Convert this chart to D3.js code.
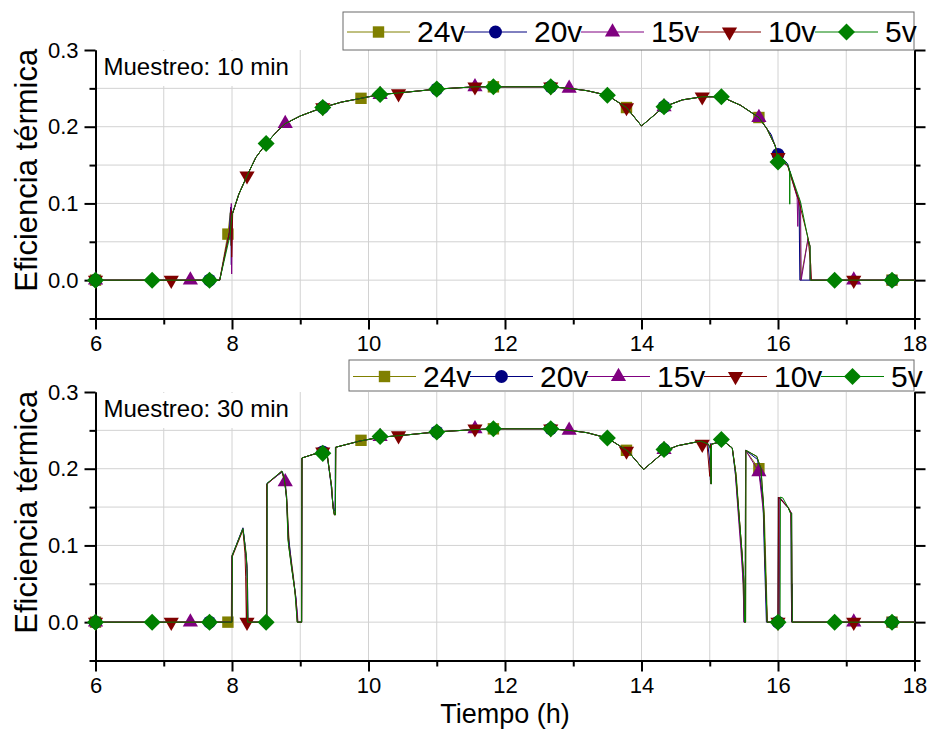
<!DOCTYPE html>
<html>
<head>
<meta charset="utf-8">
<script src="https://cdn.jsdelivr.net/npm/d3@7"></script>
<style>
  body { margin: 0; background: #fff; }
  svg { display: block; }
  text { font-family: "Liberation Sans", Arial, sans-serif; fill: #000; }
</style>
</head>
<body>
<svg id="chart" width="930" height="729"></svg>
<script>
// ---------- series definitions ----------
const seriesNames  = ["24v", "20v", "15v", "10v", "5v"];
const seriesColors = ["#808000", "#000080", "#800080", "#800000", "#008000"];
const seriesShapes = ["square", "circle", "triangle", "triangleDown", "diamond"];

// ---------- axis ticks ----------
const hourTicks  = [6, 8, 10, 12, 14, 16, 18];
const hourMinor  = [7, 9, 11, 13, 15, 17];
const effTicks   = [0.0, 0.1, 0.2, 0.3];
const effMinor   = [-0.05, 0.05, 0.15, 0.25];
const effGrid    = [0.0, 0.05, 0.1, 0.15, 0.2, 0.25];

// ---------- 10 min sampling: efficiency vs hour ----------
const curveTop = [
  [6, 0], [7.82, 0], [7.97, 0.058], [8.0, 0.085], [8.1, 0.112], [8.22, 0.136],
  [8.35, 0.16], [8.5, 0.178], [8.65, 0.193], [8.78, 0.204], [9.0, 0.214],
  [9.33, 0.225], [9.6, 0.232], [9.89, 0.237], [10.17, 0.242], [10.44, 0.244],
  [11.0, 0.249], [11.56, 0.252], [11.83, 0.252], [12.67, 0.252], [12.94, 0.25],
  [13.2, 0.247], [13.5, 0.241], [13.78, 0.225], [14.0, 0.201], [14.33, 0.226],
  [14.6, 0.235], [14.89, 0.239], [15.17, 0.239], [15.45, 0.228], [15.72, 0.212],
  [15.84, 0.197], [15.96, 0.175], [16.0, 0.154], [16.14, 0.151], [16.17, 0.142],
  [16.172, 0.099], [16.175, 0.142], [16.33, 0.102], [16.44, 0.054], [16.47, 0.044],
  [16.472, 0], [18, 0]
];
const edgesTop24 = [
  [[7.82, 0], [7.94, 0.06], [7.975, 0.088], [7.985, 0.045], [8.0, 0.085]],
  [[16.0, 0.158], [16.14, 0.15], [16.17, 0.14], [16.3, 0.104], [16.32, 0.1], [16.33, 0]]
];
const edgesTop20 = [
  [[7.82, 0], [7.96, 0.062], [7.98, 0.095], [7.99, 0.02], [8.0, 0.085]],
  [[15.9, 0.19], [16.0, 0.164], [16.14, 0.152], [16.3, 0.105], [16.31, 0.09], [16.32, 0],
   [16.47, 0], [16.475, 0.02], [16.48, 0]]
];
const edgesTop15 = [
  [[7.82, 0], [7.97, 0.065], [7.99, 0.1], [7.995, 0.008], [8.005, 0.086]],
  [[16.0, 0.158], [16.15, 0.148], [16.28, 0.108], [16.29, 0.07], [16.3, 0.108],
   [16.33, 0.1], [16.34, 0]]
];
const edgesTop10 = [
  [[7.82, 0], [7.98, 0.07], [7.99, 0.092], [7.995, 0.03], [8.01, 0.087]],
  [[16.0, 0.16], [16.14, 0.15], [16.3, 0.105], [16.44, 0.055], [16.48, 0.02], [16.49, 0]]
];
const marksTop24 = [[6, 0], [7.94, 0.06], [9.89, 0.237], [11.83, 0.252], [13.78, 0.225],
  [15.72, 0.212], [17.67, 0]];
const marksTop20 = [[6, 0], [7.67, 0], [9.33, 0.225], [11.0, 0.249], [12.67, 0.252],
  [14.33, 0.226], [16.0, 0.164], [17.67, 0]];
const marksTop15 = [[6, 0], [7.39, 0], [8.78, 0.204], [10.17, 0.242], [11.56, 0.252],
  [12.94, 0.25], [14.33, 0.226], [15.72, 0.212], [17.11, 0]];
const marksTop10 = [[6, 0], [7.11, 0], [8.22, 0.136], [9.33, 0.225], [10.44, 0.243],
  [11.56, 0.252], [12.67, 0.252], [13.78, 0.225], [14.89, 0.239], [16.0, 0.16], [17.11, 0]];
const marksTop5 = [[6, 0], [6.83, 0], [7.67, 0], [8.5, 0.178], [9.33, 0.225], [10.17, 0.242],
  [11.0, 0.249], [11.83, 0.252], [12.67, 0.252], [13.5, 0.241], [14.33, 0.226],
  [15.17, 0.239], [16.0, 0.154], [16.83, 0], [17.67, 0]];

// ---------- 30 min sampling: efficiency vs hour ----------
const curveBottom = [
  [6, 0], [8.0, 0], [8.005, 0.087], [8.16, 0.122], [8.19, 0.1], [8.21, 0.087],
  [8.225, 0.057], [8.23, 0], [8.51, 0], [8.515, 0.181], [8.73, 0.197], [8.76, 0.19],
  [8.8, 0.164], [8.82, 0.107], [8.87, 0.072], [8.92, 0.042], [8.95, 0.007], [8.955, 0],
  [9.02, 0], [9.025, 0.214], [9.2, 0.219], [9.33, 0.221], [9.4, 0.215], [9.46, 0.176],
  [9.48, 0.15], [9.5, 0.14], [9.515, 0.14], [9.52, 0.228], [9.87, 0.236], [10.17, 0.241],
  [10.44, 0.243], [11.0, 0.248], [11.56, 0.251], [11.83, 0.252], [12.67, 0.252],
  [12.94, 0.25], [13.2, 0.247], [13.5, 0.24], [13.8, 0.223], [14.03, 0.199],
  [14.36, 0.224], [14.53, 0.23], [14.87, 0.236], [14.98, 0.232], [15.01, 0.226],
  [15.02, 0.18], [15.025, 0.232], [15.2, 0.236], [15.33, 0.227], [15.38, 0.195],
  [15.42, 0.15], [15.47, 0.094], [15.5, 0.055], [15.51, 0], [15.525, 0], [15.53, 0.224],
  [15.69, 0.216], [15.75, 0.2], [15.79, 0.15], [15.81, 0.085], [15.84, 0], [16.03, 0],
  [16.035, 0.163], [16.07, 0.162], [16.15, 0.149], [16.18, 0.142], [16.2, 0.142],
  [16.205, 0.05], [16.21, 0], [18, 0]
];
const edgesBottom24 = [
  [[7.99, 0], [7.995, 0.086], [8.16, 0.121], [8.2, 0.095], [8.22, 0.07], [8.232, 0]],
  [[8.505, 0], [8.51, 0.18], [8.73, 0.196], [8.78, 0.18], [8.81, 0.15], [8.84, 0.1],
   [8.9, 0.06], [8.96, 0.005], [8.965, 0]],
  [[15.33, 0.227], [15.39, 0.19], [15.43, 0.14], [15.48, 0.08], [15.505, 0], [15.52, 0],
   [15.525, 0.224], [15.72, 0.2], [15.8, 0.14], [15.82, 0.08], [15.845, 0]],
  [[16.0, 0], [16.005, 0.163], [16.15, 0.15], [16.19, 0.142], [16.195, 0.06], [16.2, 0]]
];
const edgesBottom20 = [
  [[7.995, 0], [8.0, 0.086], [8.16, 0.123], [8.18, 0.11], [8.2, 0.09], [8.22, 0.07],
   [8.23, 0.04], [8.235, 0]],
  [[8.51, 0], [8.512, 0.181], [8.74, 0.196], [8.77, 0.185], [8.8, 0.16], [8.83, 0.11],
   [8.88, 0.07], [8.94, 0.03], [8.96, 0]],
  [[9.4, 0.214], [9.45, 0.18], [9.47, 0.16], [9.5, 0.145], [9.51, 0.145], [9.515, 0.228]],
  [[14.97, 0.233], [15.0, 0.21], [15.01, 0.185], [15.015, 0.233]],
  [[15.33, 0.227], [15.38, 0.19], [15.42, 0.145], [15.47, 0.09], [15.5, 0.04], [15.505, 0],
   [15.52, 0], [15.525, 0.224], [15.7, 0.212], [15.78, 0.16], [15.8, 0.09], [15.83, 0]],
  [[16.0, 0], [16.005, 0.163], [16.15, 0.149], [16.19, 0.142], [16.195, 0.05], [16.2, 0]]
];
const edgesBottom15 = [
  [[7.998, 0], [8.002, 0.086], [8.16, 0.122], [8.19, 0.1], [8.22, 0.075], [8.228, 0]],
  [[8.51, 0], [8.513, 0.18], [8.73, 0.196], [8.78, 0.183], [8.8, 0.165], [8.82, 0.11],
   [8.87, 0.075], [8.93, 0.035], [8.96, 0.01], [8.965, 0]],
  [[15.33, 0.227], [15.37, 0.2], [15.41, 0.15], [15.46, 0.09], [15.49, 0.05], [15.5, 0],
   [15.52, 0], [15.525, 0.224], [15.72, 0.196], [15.79, 0.14], [15.81, 0.08], [15.84, 0]],
  [[16.02, 0], [16.025, 0.163], [16.15, 0.149], [16.2, 0.142], [16.205, 0.06], [16.21, 0]]
];
const edgesBottom10 = [
  [[8.0, 0], [8.003, 0.085], [8.16, 0.12], [8.19, 0.09], [8.2, 0.06], [8.21, 0]],
  [[8.508, 0], [8.51, 0.18], [8.73, 0.197], [8.77, 0.185], [8.8, 0.162], [8.83, 0.1],
   [8.88, 0.068], [8.93, 0.035], [8.955, 0]],
  [[14.96, 0.232], [14.99, 0.2], [15.0, 0.19], [15.015, 0.232]],
  [[16.0, 0], [16.01, 0.163], [16.15, 0.149], [16.19, 0.142], [16.2, 0.1], [16.205, 0]]
];
const marksBottom24 = [[6, 0], [7.94, 0], [9.89, 0.237], [11.83, 0.252], [13.78, 0.224],
  [15.72, 0.2], [17.67, 0]];
const marksBottom20 = [[6, 0], [7.67, 0], [9.33, 0.222], [11.0, 0.248], [12.67, 0.252],
  [14.33, 0.225], [16.0, 0], [17.67, 0]];
const marksBottom15 = [[6, 0], [7.39, 0], [8.78, 0.183], [10.17, 0.242], [11.56, 0.252],
  [12.94, 0.25], [14.33, 0.225], [15.72, 0.196], [17.11, 0]];
const marksBottom10 = [[6, 0], [7.11, 0], [8.22, 0], [9.33, 0.222], [10.44, 0.243],
  [11.56, 0.252], [12.67, 0.252], [13.78, 0.223], [14.89, 0.232], [16.0, 0], [17.11, 0]];
const marksBottom5 = [[6, 0], [6.83, 0], [7.67, 0], [8.5, 0], [9.33, 0.22], [10.17, 0.242],
  [11.0, 0.248], [11.83, 0.252], [12.67, 0.252], [13.5, 0.24], [14.33, 0.225],
  [15.17, 0.238], [16.0, 0], [16.83, 0], [17.67, 0]];

// ---------- helpers ----------
// replace the shared curve inside each edge segment's time span with that segment
function buildLine(curve, segments) {
  let pts = curve.slice();
  segments.forEach(seg => {
    const t0 = seg[0][0], t1 = seg[seg.length - 1][0];
    pts = pts.filter(p => p[0] < t0 || p[0] > t1).concat(seg);
  });
  return pts.sort((a, b) => a[0] - b[0]);
}

function symbolPath(shape) {
  switch (shape) {
    case "square":       return d3.symbol(d3.symbolSquare, 130)();
    case "circle":       return d3.symbol(d3.symbolCircle, 130)();
    case "triangle":     return d3.symbol(d3.symbolTriangle, 100)();
    case "triangleDown": return d3.symbol(d3.symbolTriangle, 100)();
    case "diamond":      return d3.symbol(d3.symbolSquare, 145)();
  }
}
function symbolRotate(shape) {
  if (shape === "triangleDown") return 180;
  if (shape === "diamond") return 45;
  return 0;
}

const svg = d3.select("#chart");
const x = d3.scaleLinear().domain([6, 18]).range([95.5, 914.5]);

function drawPanel(cfg) {
  const y = d3.scaleLinear().domain([-0.05, 0.3]).range(cfg.yRange);
  const g = svg.append("g");

  // grid
  g.append("g").selectAll("line").data(hourMinor.concat([8, 10, 12, 14, 16])).join("line")
    .attr("x1", d => x(d)).attr("x2", d => x(d))
    .attr("y1", y(0.3)).attr("y2", y(-0.05))
    .attr("stroke", "#d2d2d2").attr("stroke-width", 1);
  g.append("g").selectAll("line").data(effGrid).join("line")
    .attr("x1", x(6)).attr("x2", x(18))
    .attr("y1", d => y(d)).attr("y2", d => y(d))
    .attr("stroke", "#d2d2d2").attr("stroke-width", 1);

  // sampling label with white backdrop
  g.append("rect").attr("x", x(6) + 2).attr("y", y(0.3) + 1)
    .attr("width", 198).attr("height", 35).attr("fill", "#fff");
  g.append("text").attr("x", x(6) + 8).attr("y", y(0.3) + 25)
    .attr("font-size", 24).text(cfg.label);

  // axes
  const axisStyle = sel => {
    sel.selectAll("path.domain").attr("stroke", "#000").attr("stroke-width", 2);
    sel.selectAll(".tick line").attr("stroke", "#000").attr("stroke-width", 2);
    sel.selectAll(".tick text").attr("font-size", 22)
      .attr("font-family", "'Liberation Sans', Arial, sans-serif").attr("fill", "#000");
  };
  const yZero = y(-0.05);
  g.append("g").attr("transform", `translate(0,${yZero})`)
    .call(d3.axisBottom(x).tickValues(hourTicks).tickSize(11).tickSizeOuter(0).tickPadding(6)
      .tickFormat(d3.format("d"))).call(axisStyle);
  g.append("g").attr("transform", `translate(0,${yZero})`)
    .call(d3.axisBottom(x).tickValues(hourMinor).tickSize(6).tickSizeOuter(0).tickFormat(""))
    .call(axisStyle);
  g.append("g").attr("transform", `translate(${x(6)},0)`)
    .call(d3.axisLeft(y).tickValues(effTicks).tickSize(11).tickSizeOuter(0).tickPadding(6)
      .tickFormat(d3.format(".1f"))).call(axisStyle);
  g.append("g").attr("transform", `translate(${x(6)},0)`)
    .call(d3.axisLeft(y).tickValues(effMinor).tickSize(6).tickSizeOuter(0).tickFormat(""))
    .call(axisStyle);
  g.append("g").attr("transform", `translate(${x(18)},0)`)
    .call(d3.axisRight(y).tickValues(effTicks).tickSize(11).tickSizeOuter(0).tickFormat(""))
    .call(axisStyle);
  g.append("g").attr("transform", `translate(${x(18)},0)`)
    .call(d3.axisRight(y).tickValues(effMinor).tickSize(6).tickSizeOuter(0).tickFormat(""))
    .call(axisStyle);

  // y title
  g.append("text")
    .attr("transform", `translate(37,${(y(0.3) + y(-0.05)) / 2 - 14}) rotate(-90)`)
    .attr("text-anchor", "middle").attr("font-size", 31).text("Eficiencia térmica");

  // series: line then markers, 5v drawn last
  const line = d3.line().x(d => x(d[0])).y(d => y(d[1]));
  seriesNames.forEach((name, i) => {
    const pts = buildLine(cfg.curve, cfg.edges[i]);
    g.append("path").datum(pts).attr("d", line)
      .attr("fill", "none").attr("stroke", seriesColors[i]).attr("stroke-width", 1);
    g.append("g").selectAll("path").data(cfg.marks[i]).join("path")
      .attr("d", symbolPath(seriesShapes[i]))
      .attr("transform", d => `translate(${x(d[0])},${y(d[1])}) rotate(${symbolRotate(seriesShapes[i])})`)
      .attr("fill", seriesColors[i]);
  });

  // legend
  const lg = cfg.legend;
  const lgG = svg.append("g");
  lgG.append("rect").attr("x", lg.x).attr("y", lg.y).attr("width", lg.w).attr("height", lg.h)
    .attr("fill", "#fff").attr("stroke", "#6b6b6b").attr("stroke-width", 1);
  seriesNames.forEach((name, i) => {
    const sx = lg.x + 4 + i * 117;
    const cy = lg.y + lg.h / 2 + 1;
    lgG.append("line").attr("x1", sx).attr("x2", sx + 63).attr("y1", cy).attr("y2", cy)
      .attr("stroke", seriesColors[i]).attr("stroke-width", 1);
    lgG.append("path").attr("d", symbolPath(seriesShapes[i]))
      .attr("transform", `translate(${sx + 31.5},${cy}) rotate(${symbolRotate(seriesShapes[i])})`)
      .attr("fill", seriesColors[i]);
    lgG.append("text").attr("x", sx + 70).attr("y", cy + 10).attr("font-size", 30).text(name);
  });
}

drawPanel({
  yRange: [318.5, 50],
  curve: curveTop,
  edges: [edgesTop24, edgesTop20, edgesTop15, edgesTop10, []],
  marks: [marksTop24, marksTop20, marksTop15, marksTop10, marksTop5],
  label: "Muestreo: 10 min",
  legend: { x: 343, y: 12, w: 571, h: 38 }
});
drawPanel({
  yRange: [660.5, 392],
  curve: curveBottom,
  edges: [edgesBottom24, edgesBottom20, edgesBottom15, edgesBottom10, []],
  marks: [marksBottom24, marksBottom20, marksBottom15, marksBottom10, marksBottom5],
  label: "Muestreo: 30 min",
  legend: { x: 349, y: 360, w: 565, h: 31 }
});

svg.append("text").attr("x", x(12)).attr("y", 723).attr("text-anchor", "middle")
  .attr("font-size", 27).text("Tiempo (h)");
</script>
</body>
</html>
